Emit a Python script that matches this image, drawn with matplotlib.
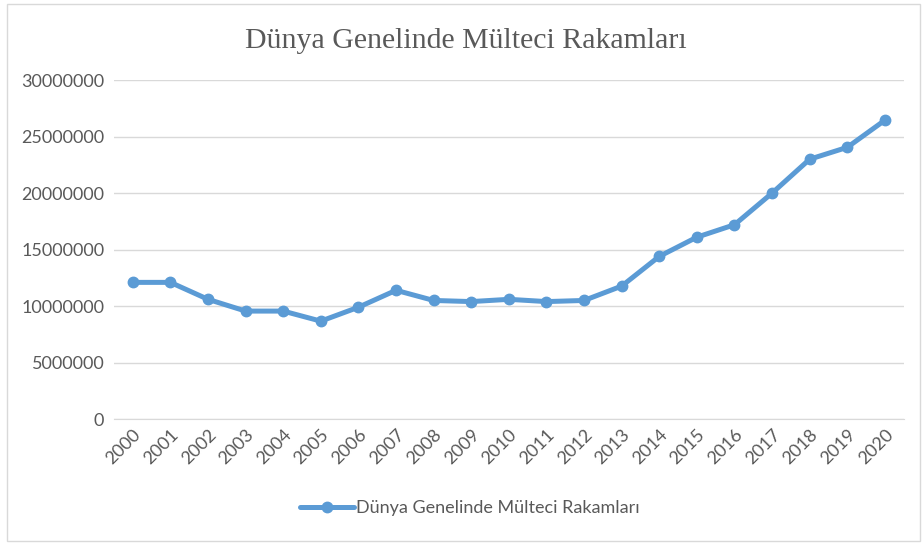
import matplotlib
matplotlib.use("Agg")
import matplotlib.pyplot as plt
from matplotlib.patches import Rectangle

# Yearly refugee counts
years = [str(y) for y in range(2000, 2021)]
refugees = [12100000, 12100000, 10600000, 9560000, 9560000, 8670000, 9900000,
            11400000, 10500000, 10400000, 10600000, 10400000, 10500000, 11770000,
            14400000, 16100000, 17200000, 20000000, 23000000, 24050000, 26450000]
yticks = [0, 5000000, 10000000, 15000000, 20000000, 25000000, 30000000]

series_name = "Dünya Genelinde Mülteci Rakamları"
blue = "#5B9BD5"
gray = "#595959"

fig = plt.figure(figsize=(9.24, 5.45), dpi=100)
ax = fig.add_axes([0.1234, 0.231, 0.8546, 0.622])

x = list(range(len(years)))
ax.plot(x, refugees, color=blue, linewidth=3.6, marker="o", markersize=7.5,
        label=series_name, solid_capstyle="round", zorder=3)

ax.set_xlim(-0.5, len(years) - 0.5)
ax.set_ylim(0, 30000000)
ax.set_yticks(yticks)
ax.set_yticklabels([str(v) for v in yticks], fontsize=13, color=gray, family="Lato")
ax.set_xticks(x)
ax.set_xticklabels(years, rotation=45, ha="right", rotation_mode="anchor",
                   fontsize=13, color=gray, family="Lato")
ax.tick_params(length=0, pad=7)
ax.tick_params(axis="x", pad=5)

ax.grid(axis="y", color="#D9D9D9", linewidth=1)
ax.set_axisbelow(True)
for side in ["top", "right", "left"]:
    ax.spines[side].set_visible(False)
ax.spines["bottom"].set_color("#D9D9D9")

fig.text(0.504, 0.925, series_name, ha="center", va="center", fontsize=21.5,
         color=gray, family="Liberation Serif")

leg = fig.legend(loc="center", bbox_to_anchor=(0.508, 0.068), frameon=False,
                 prop={"family": "Lato", "size": 13}, handlelength=3.0,
                 handletextpad=0.1)
for t in leg.get_texts():
    t.set_color(gray)

# light frame around the chart area
fig.patches.append(Rectangle((0.008, 0.007), 0.988, 0.985, transform=fig.transFigure,
                             fill=False, edgecolor="#D9D9D9", linewidth=1))

fig.savefig("out.png", dpi=100)
